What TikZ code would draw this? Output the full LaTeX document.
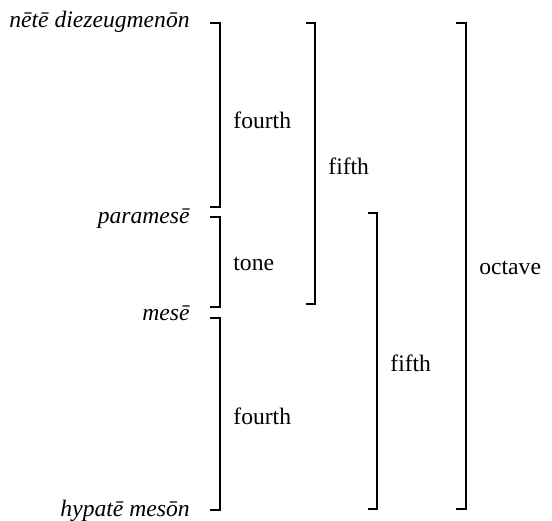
\documentclass[tikz,border=0pt]{standalone}
\usepackage{fontspec}
\setmainfont{Liberation Serif}
\usepackage{tikz}
\usetikzlibrary{positioning}

\begin{document}
\begin{tikzpicture}[x=0.5pt, y=-0.5pt,
      every node/.style={font=\fontsize{11.8}{14}\selectfont, inner sep=0pt},
      note/.style={anchor=base east, font=\fontsize{11.8}{14}\selectfont\itshape},
      interval/.style={anchor=west},
      bracket/.style={line width=0.6pt, line join=miter}]

    \useasboundingbox (0,0) rectangle (552,520);

    % note names, right aligned
    \node[note] (nete) at (190,27) {nētē diezeugmenōn};
    \node[note] (paramese) at (190,223) {paramesē};
    \node[note] (mese) at (190,320) {mesē};
    \node[note] (hypate) at (190,516) {hypatē mesōn};

    % first column: fourth, tone, fourth
    \draw[bracket] (210,23) -- (220,23) -- (220,207) -- (210,207);
    \node[interval] (fourthA) at (233,120) {fourth};

    \draw[bracket] (210,217) -- (220,217) -- (220,307) -- (210,307);
    \node[interval] (tone) at (233,264) {tone};

    \draw[bracket] (210,318) -- (220,318) -- (220,510) -- (210,510);
    \node[interval] (fourthB) at (233,416) {fourth};

    % second column: the two fifths
    \draw[bracket] (306,23) -- (315,23) -- (315,304) -- (306,304);
    \node[interval] (fifthA) at (328,166) {fifth};

    \draw[bracket] (368,213) -- (377,213) -- (377,509) -- (368,509);
    \node[interval] (fifthB) at (390,363) {fifth};

    % the whole octave
    \draw[bracket] (456,23) -- (466,23) -- (466,509) -- (456,509);
    \node[interval] (octave) at (479,268) {octave};
  \end{tikzpicture}
\end{document}
